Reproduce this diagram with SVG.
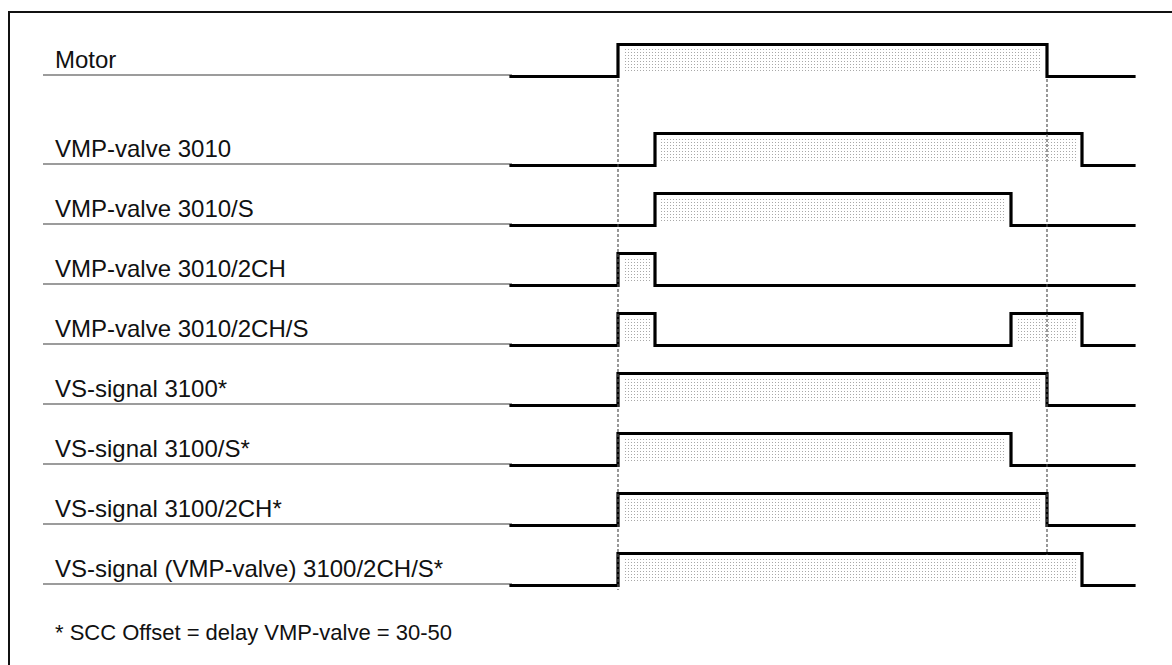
<svg xmlns="http://www.w3.org/2000/svg" width="1172" height="665" viewBox="0 0 1172 665">
<defs>
<pattern id="stip" width="3" height="3" patternUnits="userSpaceOnUse">
<rect width="3" height="3" fill="#ffffff"/>
<rect x="1" y="1" width="1" height="1" fill="#a8a8a8"/>
</pattern>
<style>
.lbl{font-family:"Liberation Sans",Arial,sans-serif;font-size:24px;fill:#111}
.note{font-family:"Liberation Sans",Arial,sans-serif;font-size:22px;fill:#111}
.ul{stroke:#3a3a3a;stroke-width:1.2;fill:none}
.sig{stroke:#000;stroke-width:3.2;fill:none;stroke-linejoin:miter;stroke-linecap:square}
.hi{fill:url(#stip)}
.guide{stroke:#555;stroke-width:1.2;stroke-dasharray:3 2;fill:none}
.frame{stroke:#111;stroke-width:2;fill:none}
</style>
</defs>
<rect width="1172" height="665" fill="#fff"/>
<path class="frame" d="M9,665 V12 H1172"/>

<g id="motor">
<text class="lbl" x="55" y="68">Motor</text>
<line class="ul" x1="43" y1="75" x2="512" y2="75"/>
<rect class="hi" x="623" y="49" width="419" height="24"/>
<path class="sig" d="M511,76.5 H618 V44.5 H1047 V76.5 H1134"/>
</g>

<g id="vmp3010">
<text class="lbl" x="55" y="157">VMP-valve 3010</text>
<line class="ul" x1="43" y1="164" x2="512" y2="164"/>
<rect class="hi" x="660" y="138" width="417" height="23"/>
<path class="sig" d="M511,165.5 H655 V133.5 H1082 V165.5 H1134"/>
</g>

<g id="vmp3010s">
<text class="lbl" x="55" y="217">VMP-valve 3010/S</text>
<line class="ul" x1="43" y1="224" x2="512" y2="224"/>
<rect class="hi" x="660" y="198" width="346" height="23"/>
<path class="sig" d="M511,225.5 H655 V193.5 H1011 V225.5 H1134"/>
</g>

<g id="vmp3010_2ch">
<text class="lbl" x="55" y="277">VMP-valve 3010/2CH</text>
<line class="ul" x1="43" y1="284" x2="512" y2="284"/>
<rect class="hi" x="623" y="258" width="27" height="23"/>
<path class="sig" d="M511,285.5 H618 V253.5 H655 V285.5 H1134"/>
</g>

<g id="vmp3010_2chs">
<text class="lbl" x="55" y="337">VMP-valve 3010/2CH/S</text>
<line class="ul" x1="43" y1="344" x2="512" y2="344"/>
<rect class="hi" x="623" y="318" width="27" height="23"/>
<rect class="hi" x="1016" y="318" width="61" height="23"/>
<path class="sig" d="M511,345.5 H618 V313.5 H655 V345.5 H1011 V313.5 H1082 V345.5 H1134"/>
</g>

<g id="vs3100">
<text class="lbl" x="55" y="397">VS-signal 3100*</text>
<line class="ul" x1="43" y1="404" x2="512" y2="404"/>
<rect class="hi" x="623" y="378" width="419" height="23"/>
<path class="sig" d="M511,405.5 H618 V373.5 H1047 V405.5 H1134"/>
</g>

<g id="vs3100s">
<text class="lbl" x="55" y="457">VS-signal 3100/S*</text>
<line class="ul" x1="43" y1="464" x2="512" y2="464"/>
<rect class="hi" x="623" y="438" width="383" height="23"/>
<path class="sig" d="M511,465.5 H618 V433.5 H1011 V465.5 H1134"/>
</g>

<g id="vs3100_2ch">
<text class="lbl" x="55" y="517">VS-signal 3100/2CH*</text>
<line class="ul" x1="43" y1="524" x2="512" y2="524"/>
<rect class="hi" x="623" y="498" width="419" height="23"/>
<path class="sig" d="M511,525.5 H618 V493.5 H1047 V525.5 H1134"/>
</g>

<g id="vs3100_2chs">
<text class="lbl" x="55" y="577">VS-signal (VMP-valve) 3100/2CH/S*</text>
<line class="ul" x1="43" y1="584" x2="512" y2="584"/>
<rect class="hi" x="623" y="558" width="454" height="23"/>
<path class="sig" d="M511,585.5 H618 V553.5 H1082 V585.5 H1134"/>
</g>

<g id="connectors">
<line class="guide" x1="618" y1="79" x2="618" y2="590"/>
<line class="guide" x1="1047" y1="79" x2="1047" y2="555"/>
</g>

<g id="footnote">
<text class="note" x="55" y="640">* SCC Offset = delay VMP-valve = 30-50</text>
</g>
</svg>
